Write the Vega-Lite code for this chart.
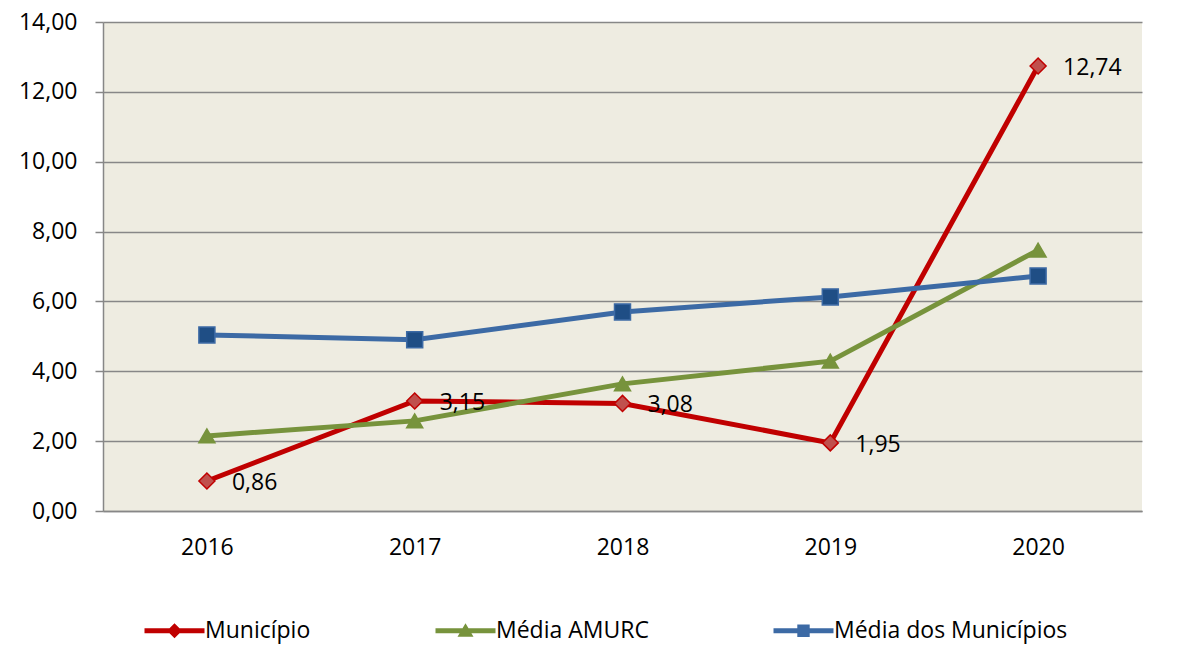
{
  "$schema": "https://vega.github.io/schema/vega-lite/v6.json",
  "width": 1039,
  "height": 489,
  "autosize": {"type": "none"},
  "padding": {"left": 103, "top": 22, "right": 61, "bottom": 151},
  "background": "white",
  "config": {
    "view": {"fill": "#EEECE1", "stroke": null},
    "font": "Open Sans",
    "legend": {
      "title": null,
      "orient": "none",
      "legendX": 60,
      "legendY": 597,
      "direction": "horizontal",
      "columns": 3,
      "columnPadding": 124,
      "labelOffset": 19,
      "symbolSize": 400,
      "symbolOpacity": 1,
      "symbolStrokeWidth": 0,
      "symbolFillColor": "#C00000",
      "labelFontSize": 23,
      "labelColor": "black",
      "labelFont": "Open Sans",
      "labelLimit": 500,
      "padding": 0
    }
  },
  "data": {
    "values": [
      {"year": "2016", "series": "Município", "value": 0.86, "label": "0,86"},
      {"year": "2017", "series": "Município", "value": 3.15, "label": "3,15"},
      {"year": "2018", "series": "Município", "value": 3.08, "label": "3,08"},
      {"year": "2019", "series": "Município", "value": 1.95, "label": "1,95"},
      {"year": "2020", "series": "Município", "value": 12.74, "label": "12,74"},
      {"year": "2016", "series": "Média AMURC", "value": 2.15, "label": ""},
      {"year": "2017", "series": "Média AMURC", "value": 2.58, "label": ""},
      {"year": "2018", "series": "Média AMURC", "value": 3.64, "label": ""},
      {"year": "2019", "series": "Média AMURC", "value": 4.29, "label": ""},
      {"year": "2020", "series": "Média AMURC", "value": 7.47, "label": ""},
      {"year": "2016", "series": "Média dos Municípios", "value": 5.04, "label": ""},
      {"year": "2017", "series": "Média dos Municípios", "value": 4.9, "label": ""},
      {"year": "2018", "series": "Média dos Municípios", "value": 5.7, "label": ""},
      {"year": "2019", "series": "Média dos Municípios", "value": 6.13, "label": ""},
      {"year": "2020", "series": "Média dos Municípios", "value": 6.73, "label": ""}
    ]
  },
  "encoding": {
    "x": {
      "field": "year",
      "type": "ordinal",
      "scale": {"type": "point", "padding": 0.5},
      "axis": {
        "title": null,
        "labelAngle": 0,
        "ticks": false,
        "grid": false,
        "domainColor": "#878787",
        "domainWidth": 1.5,
        "labelPadding": 25,
        "labelFontSize": 23,
        "labelColor": "black",
        "labelFont": "Open Sans"
      }
    },
    "y": {
      "field": "value",
      "type": "quantitative",
      "scale": {"domain": [0, 14], "nice": false, "zero": true},
      "axis": {
        "title": null,
        "values": [0, 2, 4, 6, 8, 10, 12, 14],
        "labelExpr": "replace(format(datum.value, '.2f'), '.', ',')",
        "grid": true,
        "gridColor": "#878787",
        "gridWidth": 1.5,
        "domainColor": "#878787",
        "domainWidth": 1.5,
        "tickColor": "#878787",
        "tickWidth": 1.5,
        "tickSize": 8,
        "labelPadding": 18,
        "labelFontSize": 23,
        "labelColor": "black",
        "labelFont": "Open Sans"
      }
    }
  },
  "resolve": {"scale": {"shape": "independent"}},
  "layer": [
    {
      "mark": {"type": "line", "strokeWidth": 5},
      "encoding": {
        "color": {
          "field": "series",
          "type": "nominal",
          "scale": {
            "domain": ["Município", "Média AMURC", "Média dos Municípios"],
            "range": ["#C00000", "#77933C", "#3C6AA5"]
          },
          "legend": null
        }
      }
    },
    {
      "mark": {"type": "point", "filled": true, "strokeWidth": 1.5, "opacity": 1},
      "encoding": {
        "shape": {
          "field": "series",
          "type": "nominal",
          "scale": {
            "domain": ["Município", "Média AMURC", "Média dos Municípios"],
            "range": ["diamond", "triangle-up", "square"]
          },
          "legend": null
        },
        "fill": {
          "field": "series",
          "type": "nominal",
          "scale": {
            "domain": ["Município", "Média AMURC", "Média dos Municípios"],
            "range": ["#C0504D", "#77933C", "#1F4E85"]
          },
          "legend": null
        },
        "stroke": {
          "field": "series",
          "type": "nominal",
          "scale": {
            "domain": ["Município", "Média AMURC", "Média dos Municípios"],
            "range": ["#C00000", "#77933C", "#3C6AA5"]
          },
          "legend": null
        },
        "size": {
          "field": "series",
          "type": "nominal",
          "scale": {
            "domain": ["Município", "Média AMURC", "Média dos Municípios"],
            "range": [256, 256, 169]
          },
          "legend": null
        }
      }
    },
    {
      "mark": {"type": "point", "filled": true, "opacity": 0},
      "encoding": {
        "color": {
          "field": "series",
          "type": "nominal",
          "scale": {
            "domain": ["Município", "Média AMURC", "Média dos Municípios"],
            "range": ["#C00000", "#77933C", "#3C6AA5"]
          },
          "legend": {
            "encode": {"symbols": {"update": {"fill": {"signal": "scale('color', datum.value)"}}}}
          }
        },
        "shape": {
          "field": "series",
          "type": "nominal",
          "scale": {
            "domain": ["Município", "Média AMURC", "Média dos Municípios"],
            "range": [
              "M-3,-0.25H3V0.25H-3Z M-0.75,0L0,-0.75L0.75,0L0,0.75Z",
              "M-3,-0.25H3V0.25H-3Z M0,-0.75L0.8,0.6H-0.8Z",
              "M-3,-0.25H3V0.25H-3Z M-0.62,-0.62H0.62V0.62H-0.62Z"
            ]
          },
          "legend": {
            "encode": {"symbols": {"update": {"fill": {"signal": "scale('color', datum.value)"}}}}
          }
        }
      }
    },
    {
      "transform": [{"filter": "datum.series === 'Município'"}],
      "mark": {
        "type": "text",
        "align": "left",
        "baseline": "middle",
        "dx": 25,
        "dy": 2,
        "fontSize": 23,
        "font": "Open Sans",
        "color": "black"
      },
      "encoding": {"text": {"field": "label", "type": "nominal"}}
    }
  ]
}
